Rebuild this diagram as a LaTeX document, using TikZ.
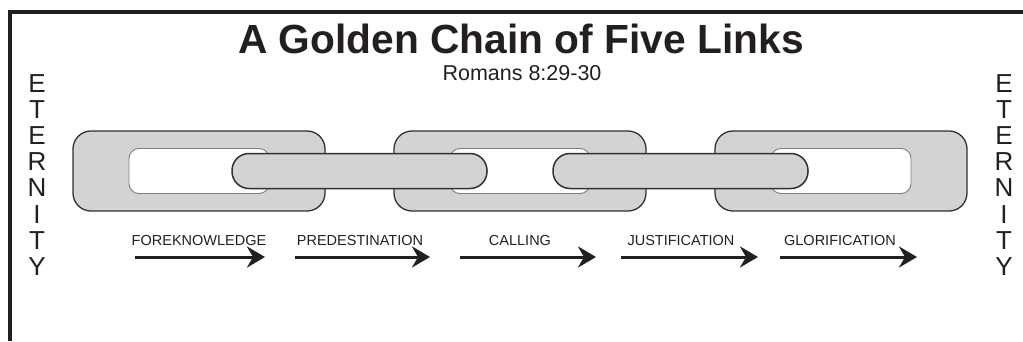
\documentclass[tikz,border=0pt]{standalone}
\usepackage{fontspec}
\setmainfont{Liberation Sans}
\usetikzlibrary{positioning,arrows.meta}
\definecolor{linkgray}{RGB}{210,211,213}
\definecolor{linkline}{RGB}{50,48,48}
\definecolor{holeline}{RGB}{125,125,125}
\definecolor{ink}{RGB}{35,31,32}
\tikzset{biglink/.style={rectangle,minimum width=252pt,minimum height=80pt,rounded corners=18pt,inner sep=0pt,outer sep=0pt,draw=linkline,line width=1.3pt,fill=linkgray}}
\tikzset{hole/.style={rectangle,minimum width=140pt,minimum height=45pt,rounded corners=10pt,inner sep=0pt,draw=holeline,line width=0.9pt,fill=white}}
\tikzset{thinlink/.style={rectangle,minimum width=255pt,minimum height=35pt,rounded corners=17pt,inner sep=0pt,draw=linkline,line width=1.5pt,fill=linkgray}}
\tikzset{stage/.style={font=\fontsize{14.5}{16}\selectfont,text=ink,inner sep=0pt,anchor=base}}
\tikzset{flow/.style={line width=3pt,draw=ink,-{Stealth[length=18pt,width=21pt,inset=6pt]}}}
\tikzset{eternity/.style={font=\fontsize{26}{26.2}\selectfont,align=center,inner sep=0pt,anchor=north,text=ink}}

\begin{document}
\begin{tikzpicture}[x=1pt,y=-1pt]
  \useasboundingbox (0,0) rectangle (1023,341);
  % frame, only top and left edges show
  \coordinate (fbl) at (10,341);
  \coordinate (ftl) at (10,12);
  \coordinate (ftr) at (1023,12);
  \draw[ink,line width=4pt] (fbl) -- (ftl) -- (ftr);
  % headings
  \node[anchor=base,inner sep=0pt,text=ink,font=\fontsize{40.7}{44}\selectfont\bfseries] (title) at (521,53) {A Golden Chain of Five Links};
  \node[anchor=base,inner sep=0pt,text=ink,font=\fontsize{21.5}{24}\selectfont] (verse) at (522,80) {Romans 8:29-30};
  \node[eternity] (etleft) at (37,74) {E\\T\\E\\R\\N\\I\\T\\Y};
  \node[eternity] (etright) at (1004,74) {E\\T\\E\\R\\N\\I\\T\\Y};
  % the chain
  \node[biglink] (one) at (199,171) {};
  \node[biglink,right=69pt of one] (three) {};
  \node[biglink,right=69pt of three] (five) {};
  \node[hole] (hone) at (one) {};
  \node[hole] (hthree) at (three) {};
  \node[hole] (hfive) at (five) {};
  \path (one) -- (three) node[midway,thinlink] (two) {};
  \path (three) -- (five) node[midway,thinlink] (four) {};
  % stages
  \node[stage] (fk) at (199,245) {FOREKNOWLEDGE};
  \node[stage] (pd) at (360,245) {PREDESTINATION};
  \node[stage] (cl) at (520,245) {CALLING};
  \node[stage] (js) at (681,245) {JUSTIFICATION};
  \node[stage] (gl) at (840,245) {GLORIFICATION};
  \coordinate (fka) at (135,257);
  \coordinate (fkb) at (265,257);
  \coordinate (pda) at (295,257);
  \coordinate (pdb) at (430,257);
  \coordinate (cla) at (460,257);
  \coordinate (clb) at (596,257);
  \coordinate (jsa) at (621,257);
  \coordinate (jsb) at (758,257);
  \coordinate (gla) at (780,257);
  \coordinate (glb) at (917,257);
  \draw[flow] (fka) -- (fkb);
  \draw[flow] (pda) -- (pdb);
  \draw[flow] (cla) -- (clb);
  \draw[flow] (jsa) -- (jsb);
  \draw[flow] (gla) -- (glb);
\end{tikzpicture}
\end{document}
